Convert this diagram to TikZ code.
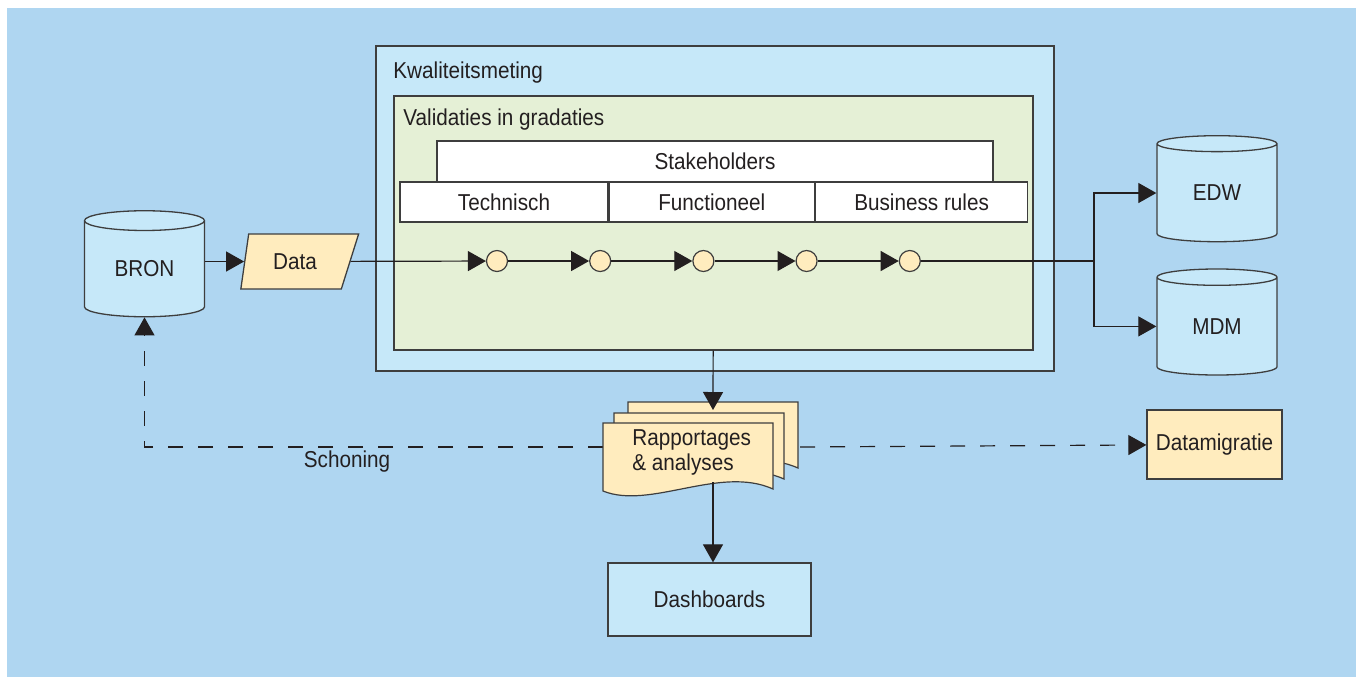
\documentclass[tikz,border=0pt]{standalone}
\usepackage{fontspec}
\setmainfont{Liberation Sans}[FakeStretch=0.9]
\usetikzlibrary{shapes,arrows.meta,positioning}

\definecolor{bgblue}{RGB}{175,214,241}
\definecolor{boxblue}{RGB}{198,232,249}
\definecolor{valgreen}{RGB}{229,240,214}
\definecolor{docyellow}{RGB}{255,236,190}
\definecolor{ink}{RGB}{35,31,32}
\definecolor{edge}{RGB}{62,62,62}

\tikzstyle{frame} = [rectangle, draw=edge, line width=0.65pt, inner sep=0pt]
\tikzstyle{cell} = [rectangle, draw=edge, line width=0.65pt, fill=white, minimum height=20pt, inner sep=0pt]
\tikzstyle{store} = [cylinder, shape border rotate=90, shape aspect=0.33, draw=edge, line width=0.65pt, fill=boxblue, minimum width=60pt, minimum height=53pt, inner sep=0pt]
\tikzstyle{inputbox} = [trapezium, trapezium left angle=77, trapezium right angle=117, trapezium stretches=true, draw=edge, line width=0.65pt, fill=docyellow, minimum width=59pt, minimum height=27.5pt, inner sep=0pt]
\tikzstyle{dot} = [circle, draw=edge, line width=0.6pt, fill=docyellow, minimum size=10.5pt, inner sep=0pt]
\tikzstyle{title} = [anchor=base west, inner sep=0pt]
\tikzstyle{arrow} = [->, line width=0.6pt, draw=ink, >={Triangle[length=9pt,width=10pt]}]
\tikzstyle{dashline} = [line width=0.6pt, draw=ink, dash pattern=on 7.5pt off 7.5pt]
\tikzstyle{sheet} = [draw=edge, line width=0.6pt, fill=docyellow]

\begin{document}
\begin{tikzpicture}[x=0.5pt,y=-0.5pt,node distance=40.5pt,text=ink,font=\fontsize{11.5}{12.5}\selectfont]

\useasboundingbox (0,0) rectangle (1356,677);
\fill[bgblue] (7,8) rectangle (1356,677);

% kwaliteitsmeting met validaties
\node(kwal)[frame,fill=boxblue,minimum width=339pt,minimum height=162.5pt] at (715,208.5) {};
\node(kwaltitle)[title] at (393,78) {Kwaliteitsmeting};
\node(val)[frame,fill=valgreen,minimum width=319.5pt,minimum height=127pt] at (713.5,223) {};
\node(valtitle)[title] at (403,125) {Validaties in gradaties};

\node(stake)[cell,minimum width=278pt,minimum height=20.5pt] at (715,161.5) {Stakeholders};
\node(techn)[cell,minimum width=104pt] at (504,202) {Technisch};
\node(func)[cell,minimum width=102.5pt,right=0pt of techn] {Functioneel};
\node(busi)[cell,minimum width=106pt,right=0pt of func] {Business rules};

\node(c1)[dot] at (497,261) {};
\node(c2)[dot,right=of c1] {};
\node(c3)[dot,right=of c2] {};
\node(c4)[dot,right=of c3] {};
\node(c5)[dot,right=of c4] {};

% bron en doelen
\node(bron)[store] at (144.5,269) {BRON};
\node(data)[inputbox] at (295,261.5) {Data};
\node(edw)[store] at (1217,193) {EDW};
\node(mdm)[store,below=13pt of edw] {MDM};
\coordinate(split) at (1094,261);

\draw[arrow] (data.west -| bron.east) -- (data.west);
\draw[arrow] (data) -- (c1);
\draw[arrow] (c1) -- (c2);
\draw[arrow] (c2) -- (c3);
\draw[arrow] (c3) -- (c4);
\draw[arrow] (c4) -- (c5);
\draw[line width=0.6pt,draw=ink] (c5) -- (split);
\draw[arrow] (split) |- (edw);
\draw[arrow] (split) |- (mdm);

% rapportages
\node(datam)[frame,fill=docyellow,minimum width=67.5pt,minimum height=34.5pt] at (1214.5,444.5) {Datamigratie};
\node(dash)[frame,fill=boxblue,minimum width=101.5pt,minimum height=36.5pt] at (709.5,599.5) {Dashboards};
\coordinate(docsleft) at (603,447);
\coordinate(docsright) at (800,447);
\coordinate(docsin) at (713,410);
\coordinate(docsout) at (713,482);

\draw[arrow,dashline] (docsleft) -| (bron);
\draw[arrow,dashline] (docsright) -- (datam);
\node(schon) at (347,462) {Schoning};

\draw[sheet,shift={(25,-21)}] (603,423) -- (773,423) -- (773,489) .. controls (720,465) and (650,510) .. (603,491) -- cycle;
\draw[sheet,shift={(11,-10)}] (603,423) -- (773,423) -- (773,489) .. controls (720,465) and (650,510) .. (603,491) -- cycle;
\draw[sheet] (603,423) -- (773,423) -- (773,489) .. controls (720,465) and (650,510) .. (603,491) -- cycle;
\node(docs)[align=left,anchor=west,inner sep=0pt] at (632,452) {Rapportages\\\& analyses};

\draw[arrow] (val) -- (docsin);
\draw[arrow] (docsout) -- (docsout |- dash.north);

\end{tikzpicture}
\end{document}
